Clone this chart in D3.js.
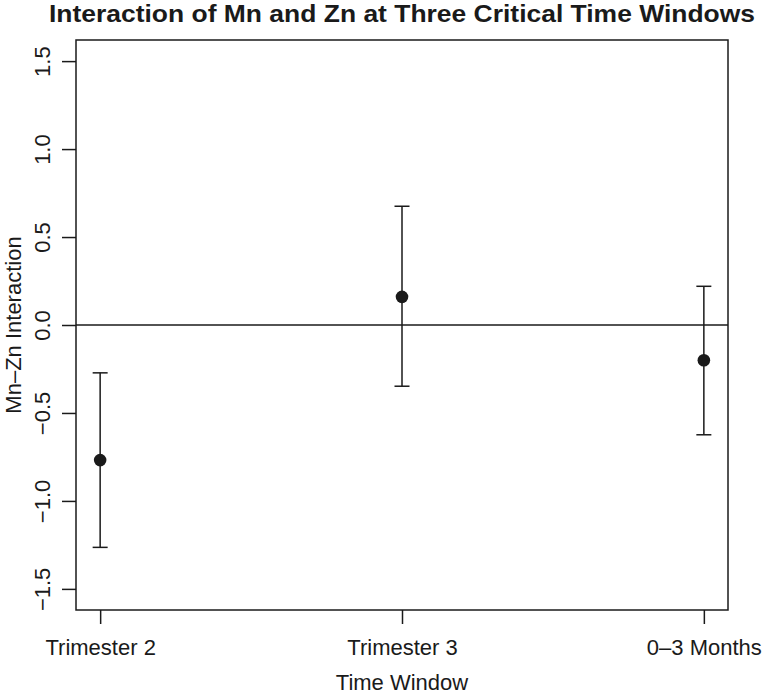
<!DOCTYPE html>
<html>
<head>
<meta charset="utf-8">
<script src="https://cdn.jsdelivr.net/npm/d3@7"></script>
<style>
  html, body { margin: 0; padding: 0; background: #fff; }
  svg { display: block; font-family: "Liberation Sans", Arial, Helvetica, sans-serif; }
</style>
</head>
<body>
<svg id="chart" width="763" height="696"></svg>
<script>
// ---- data ----
const categories = ["Trimester 2", "Trimester 3", "0\u20133 Months"];
const estimates  = [-0.768, 0.160, -0.200];
const lowerCI    = [-1.264, -0.348, -0.624];
const upperCI    = [-0.272, 0.675, 0.220];
const yTicks     = [-1.5, -1.0, -0.5, 0.0, 0.5, 1.0, 1.5];
const yTickLabels = ["\u22121.5", "\u22121.0", "\u22120.5", "0.0", "0.5", "1.0", "1.5"];
const titleText  = "Interaction of Mn and Zn at Three Critical Time Windows";
const xLabel     = "Time Window";
const yLabel     = "Mn\u2013Zn Interaction";

// ---- layout ----
const svg = d3.select("#chart");
const box = { left: 76, right: 728, top: 40, bottom: 610 };
const ink = "#1a1a1a";
const fontFam = "Liberation Sans, Arial, sans-serif";

const x = d3.scaleLinear().domain([0.92, 3.08]).range([box.left, box.right]);
const y = d3.scaleLinear().domain([-1.62, 1.62]).range([box.bottom, box.top]);

// plot box
svg.append("rect")
  .attr("x", box.left).attr("y", box.top)
  .attr("width", box.right - box.left).attr("height", box.bottom - box.top)
  .attr("fill", "none").attr("stroke", ink).attr("stroke-width", 1.5);

// y axis
const yAxis = d3.axisLeft(y).tickValues(yTicks).tickSize(14).tickSizeOuter(0)
  .tickFormat((d, i) => yTickLabels[i]);
const gy = svg.append("g").attr("transform", `translate(${box.left},0)`).call(yAxis);
gy.select(".domain").remove();
gy.selectAll(".tick line").attr("stroke", ink).attr("stroke-width", 1.5);
gy.selectAll(".tick text")
  .attr("x", 0).attr("y", 0).attr("dy", null)
  .attr("transform", "translate(-26,0) rotate(-90)")
  .attr("text-anchor", "middle")
  .attr("fill", ink).style("font-size", "22px").style("font-family", fontFam);

// x axis
const xAxis = d3.axisBottom(x).tickValues([1, 2, 3]).tickSize(14).tickSizeOuter(0)
  .tickFormat((d, i) => categories[i]);
const gx = svg.append("g").attr("transform", `translate(0,${box.bottom})`).call(xAxis);
gx.select(".domain").remove();
gx.selectAll(".tick line").attr("stroke", ink).attr("stroke-width", 1.5);
gx.selectAll(".tick text")
  .attr("y", 45).attr("dy", null)
  .attr("fill", ink).style("font-size", "22px").style("font-family", fontFam);

// zero reference line
svg.append("line")
  .attr("x1", box.left).attr("x2", box.right)
  .attr("y1", y(0)).attr("y2", y(0))
  .attr("stroke", ink).attr("stroke-width", 1.5);

// error bars
const data = categories.map((c, i) => ({ c, i: i + 1, est: estimates[i], lo: lowerCI[i], hi: upperCI[i] }));
const cap = 7.5;
const eb = svg.append("g").attr("stroke", ink).attr("stroke-width", 1.5);
eb.selectAll(".v").data(data).join("line")
  .attr("x1", d => x(d.i)).attr("x2", d => x(d.i))
  .attr("y1", d => y(d.hi)).attr("y2", d => y(d.lo));
eb.selectAll(".t").data(data).join("line")
  .attr("x1", d => x(d.i) - cap).attr("x2", d => x(d.i) + cap)
  .attr("y1", d => y(d.hi)).attr("y2", d => y(d.hi));
eb.selectAll(".b").data(data).join("line")
  .attr("x1", d => x(d.i) - cap).attr("x2", d => x(d.i) + cap)
  .attr("y1", d => y(d.lo)).attr("y2", d => y(d.lo));

// points
svg.append("g").selectAll("circle").data(data).join("circle")
  .attr("cx", d => x(d.i)).attr("cy", d => y(d.est)).attr("r", 6.3)
  .attr("fill", ink);

// title
svg.append("text")
  .attr("x", (box.left + box.right) / 2).attr("y", 22)
  .attr("text-anchor", "middle")
  .attr("fill", ink)
  .attr("textLength", 706).attr("lengthAdjust", "spacingAndGlyphs")
  .style("font-size", "24px").style("font-weight", "bold")
  .text(titleText);

// axis titles
svg.append("text")
  .attr("x", (box.left + box.right) / 2).attr("y", 690)
  .attr("text-anchor", "middle").attr("fill", ink)
  .style("font-size", "22px")
  .text(xLabel);

svg.append("text")
  .attr("transform", `translate(21,${(box.top + box.bottom) / 2}) rotate(-90)`)
  .attr("text-anchor", "middle").attr("fill", ink)
  .style("font-size", "22px")
  .text(yLabel);
</script>
</body>
</html>
